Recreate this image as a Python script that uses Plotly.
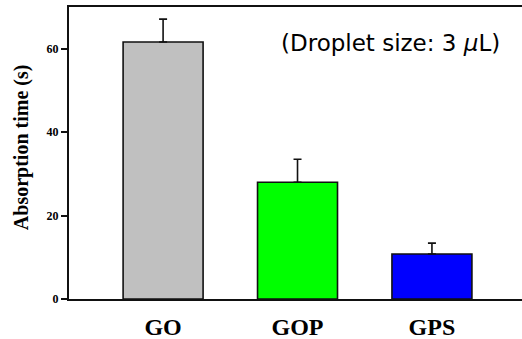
import plotly.graph_objects as go

categories = ["GO", "GOP", "GPS"]
values = [61.6, 28.0, 10.8]
errors = [5.5, 5.5, 2.6]
colors = ["#c0c0c0", "#00ff00", "#0000ff"]
y_ticks = [0, 20, 40, 60]

fig = go.Figure()
fig.add_trace(go.Bar(
    x=[0, 1, 2], y=values,
    width=0.595,
    marker=dict(color=colors, line=dict(color="#111111", width=1.6)),
    error_y=dict(type="data", array=errors, symmetric=False, arrayminus=[0, 0, 0],
                 color="#111111", thickness=1.6, width=4),
    showlegend=False,
))

fig.update_layout(
    width=522, height=339,
    margin=dict(l=69, r=0, t=7, b=40),
    plot_bgcolor="white", paper_bgcolor="white",
    font=dict(family="Liberation Serif", color="black"),
    xaxis=dict(range=[-0.70, 2.67], tickvals=[0, 1, 2], ticktext=categories,
               showline=True, linecolor="#111111", linewidth=2, mirror=True,
               ticks="", showgrid=False, zeroline=False, automargin=False,
               ticklabelstandoff=5,
               tickfont=dict(family="Liberation Serif", size=24, weight="bold", color="black")),
    yaxis=dict(range=[0, 70], tickvals=y_ticks,
               showline=True, linecolor="#111111", linewidth=2,
               ticks="outside", ticklen=6, tickwidth=1.6, tickcolor="#111111",
               showgrid=False, zeroline=False, automargin=False,
               tickfont=dict(family="Liberation Serif", size=12, weight="bold", color="black")),
    annotations=[
        dict(x=2.52, y=61.4, xref="x", yref="y", xanchor="right", yanchor="middle",
             text="(Droplet size: 3 <i>μ</i>L)", showarrow=False,
             font=dict(family="DejaVu Sans", size=23, color="black")),
        dict(x=0, y=0.52, xref="paper", yref="paper", xshift=-48, textangle=-90,
             xanchor="center", yanchor="middle", showarrow=False,
             text="<b>Absorption time (s)</b>",
             font=dict(family="Liberation Serif", size=20, color="black")),
    ],
)

fig.write_html("out.html", config={"displayModeBar": False},
               post_script="document.body.style.margin='0';document.body.style.overflow='hidden';")
